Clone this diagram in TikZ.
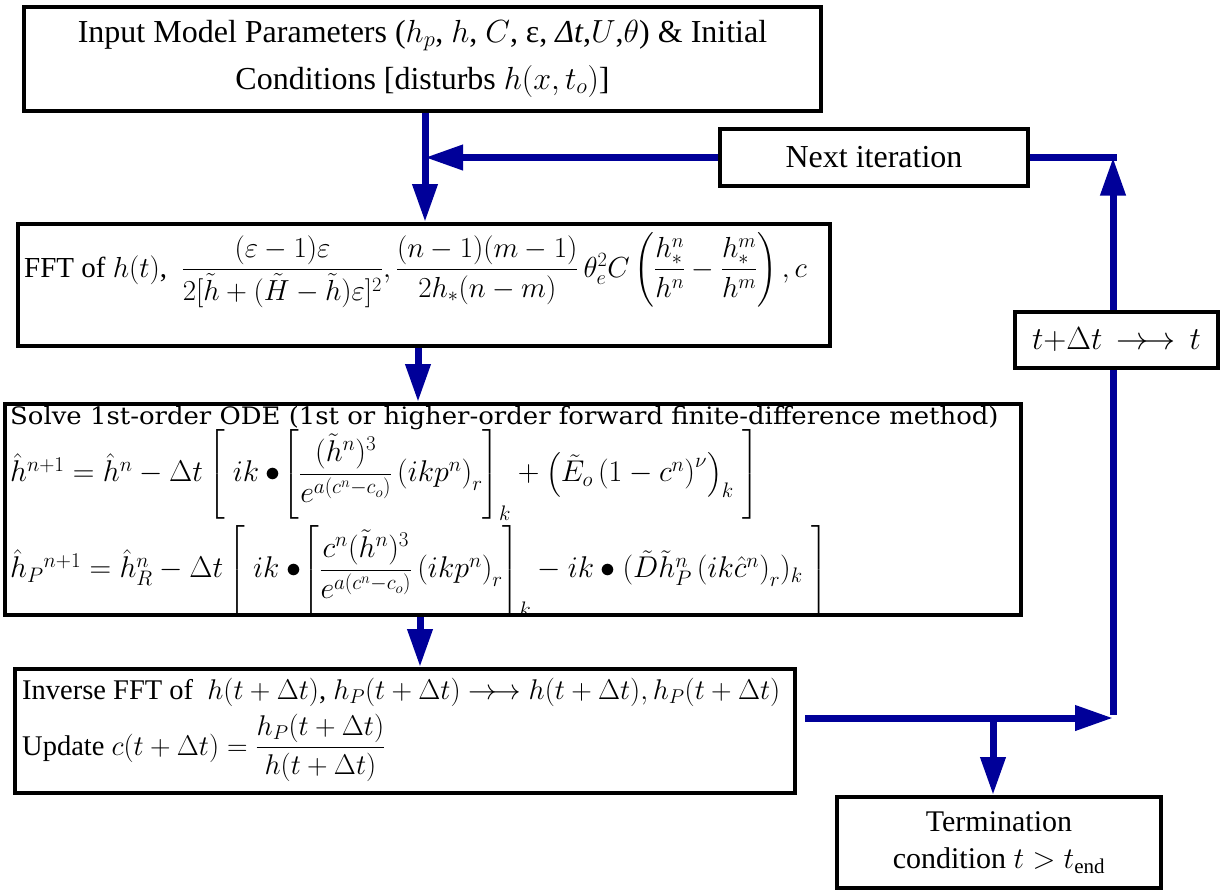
\RequirePackage{fix-cm}
\documentclass[tikz,border=0pt]{standalone}
\usepackage{amsmath}
\usepackage{fontspec}
\setmainfont{Liberation Serif}
\newfontfamily\odefont{DejaVu Serif}
\usetikzlibrary{arrows.meta}
\definecolor{flowblue}{RGB}{0,0,153}

\begin{document}
\begin{tikzpicture}[x=1pt,y=-1pt,
		box/.style={draw,line width=4pt,fill=white,inner sep=0pt},
		flow/.style={draw=flowblue,line width=7pt,-{Triangle[length=38pt,width=24pt,fill=flowblue]}},
		plain/.style={draw=flowblue,line width=7pt},
		big/.style={font=\fontsize{32}{47}\selectfont},
		eq/.style={anchor=west,inner sep=0pt,font=\fontsize{30}{34}\selectfont}]
	\useasboundingbox (0,0) rectangle (1229,895);
	% boxes
	\node [box,big,align=center,minimum width=797pt,minimum height=104pt] (in) at (422.5,58.5)
		{Input Model Parameters ($h_{p}$, $h$, $C$, ε, \textit{Δt},$U$,$\theta$) \& Initial\\
		 Conditions [disturbs $h(x,t_{o})$]};
	\node [box,big,minimum width=308pt,minimum height=57pt] (nxt) at (874,157.5) {Next iteration};
	\node [box,minimum width=812pt,minimum height=122pt] (fft) at (424,285) {};
	\node [eq,font=\fontsize{29}{34}\selectfont] (fftx) at (24,270)
		{FFT of $h(t)$,\ \ $\dfrac{(\varepsilon-1)\varepsilon}{2[\tilde{h}+(\tilde{H}-\tilde{h})\varepsilon]^{2}},\dfrac{(n-1)(m-1)}{2h_{*}(n-m)}\,\theta_{e}^{2}C\left(\dfrac{h_{*}^{n}}{h^{n}}-\dfrac{h_{*}^{m}}{h^{m}}\right),c$};
	\node [box,minimum width=1016pt,minimum height=211pt] (ode) at (513,509.5) {};
	\node [eq,font=\odefont\fontsize{24}{28}\selectfont] (odet) at (10,418)
		{\scalebox{1.08}[1]{Solve 1st-order ODE (1st or higher-order forward finite-difference method)}};
	\node [eq] (ode1) at (10,475)
		{$\hat{h}^{n+1}=\hat{h}^{n}-\Delta t\left[\;ik\bullet\!\left[\dfrac{(\tilde{h}^{n})^{3}}{e^{a\left(c^{n}-c_{o}\right)}}\left(ikp^{n}\right)_{r}\right]_{k}+\left(\tilde{E}_{o}\left(1-c^{n}\right)^{\nu}\right)_{k}\;\right]$};
	\node [eq] (ode2) at (10,571)
		{$\hat{h}_{P}{}^{n+1}=\hat{h}_{R}^{n}-\Delta t\left[\;ik\bullet\!\left[\dfrac{c^{n}(\tilde{h}^{n})^{3}}{e^{a\left(c^{n}-c_{o}\right)}}\left(ikp^{n}\right)_{r}\right]_{k}-ik\bullet(\tilde{D}\tilde{h}_{P}^{n}\left(ik\hat{c}^{n}\right)_{r})_{k}\;\right]$};
	\node [box,minimum width=780pt,minimum height=124pt] (inv) at (405,731) {};
	\node [eq,font=\fontsize{28.5}{32}\selectfont] (inv1) at (22,692)
		{Inverse FFT of \ $h(t+\Delta t)$, $h_{P}(t+\Delta t)\to\!\to h(t+\Delta t),h_{P}(t+\Delta t)$};
	\node [eq,font=\fontsize{28.5}{32}\selectfont] (inv2) at (22,748)
		{Update $c(t+\Delta t)=\dfrac{h_{P}(t+\Delta t)}{h(t+\Delta t)}$};
	\node [box,big,minimum width=203pt,minimum height=56pt] (stp) at (1116.5,340) {$t{+}\Delta t\,\to\!\to\,t$};
	\node [box,align=center,font=\fontsize{30}{37}\selectfont,minimum width=324pt,minimum height=91pt] (term) at (999,842.5)
		{Termination\\ condition $t>t_{\mathrm{end}}$};
	% connectors
	\coordinate (j1) at (425,157.5);
	\coordinate (k1) at (418,0);
	\coordinate (k2) at (420,0);
	\coordinate (c1) at (1113,157.5);
	\coordinate (c2) at (1113,718);
	\coordinate (o1) at (805,718);
	\coordinate (j2) at (993,718);
	\draw[flow] (in.south -| j1) -- (fft.north -| j1);
	\draw[flow] (nxt.west) -- (j1);
	\draw[flow] (fft.south -| k1) -- (ode.north -| k1);
	\draw[flow] (ode.south -| k2) -- (inv.north -| k2);
	\draw[flow] (o1) -- (c2);
	\draw[flow] (j2) -- (term.north -| j2);
	\draw[plain] ([yshift=3.5pt]c2) -- (stp.south -| c2);
	\draw[flow] (stp.north -| c2) -- (c1);
	\draw[plain] (nxt.east) -- ([xshift=3.5pt]c1);
\end{tikzpicture}
\end{document}
